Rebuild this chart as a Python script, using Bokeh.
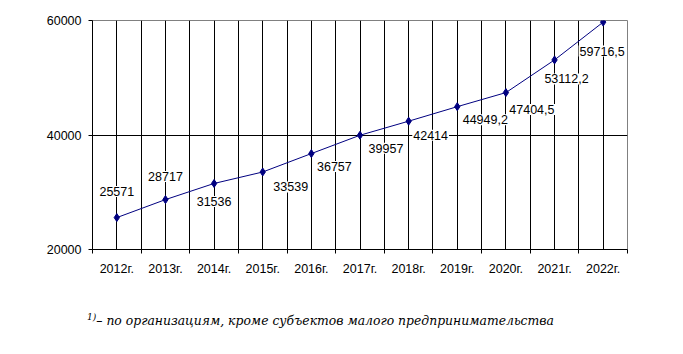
from bokeh.plotting import figure
from bokeh.models import FixedTicker, Div, ColumnDataSource, Range1d
from bokeh.layouts import column
from bokeh.core.properties import value
from bokeh.embed import file_html
from bokeh.resources import INLINE

# ---- data ----
years = ["2012г.", "2013г.", "2014г.", "2015г.", "2016г.", "2017г.",
         "2018г.", "2019г.", "2020г.", "2021г.", "2022г."]
values = [25571, 28717, 31536, 33539, 36757, 39957, 42414,
          44949.2, 47404.5, 53112.2, 59716.5]
value_labels = ["25571", "28717", "31536", "33539", "36757", "39957", "42414",
                "44949,2", "47404,5", "53112,2", "59716,5"]
y_ticks = [20000, 40000, 60000]
footnote = "– по организациям, кроме субъектов малого предпринимательства"

# ---- label placement (screen px) ----
label_dx = [0, 0, 0, 28, 23, 26, 22, 28, 26, 12, -1]
label_dy = [-26, -23, 18, 15, 13, 13, 14, 13, 17, 19, 29]

n = len(years)
xs = [i + 0.5 for i in range(n)]
bounds = list(range(n + 1))

src = ColumnDataSource(dict(x=xs, y=values, label=value_labels, dx=label_dx, dy=label_dy))

p = figure(width=683, height=300, x_range=Range1d(0, n), y_range=Range1d(20000, 60000),
           output_backend="svg", toolbar_location=None,
           min_border_left=92, min_border_right=56, min_border_top=20, min_border_bottom=51)
p.background_fill_color = "white"
p.border_fill_color = "white"
p.outline_line_color = "#808080"

# x axis
p.xaxis.ticker = FixedTicker(ticks=xs, minor_ticks=bounds)
p.xaxis.major_label_overrides = {x: y for x, y in zip(xs, years)}
p.xaxis.major_tick_out = 0
p.xaxis.major_tick_in = 0
p.xaxis.minor_tick_out = 4
p.xaxis.minor_tick_in = 0
p.xaxis.minor_tick_line_color = "black"
p.xaxis.major_label_standoff = 8
# y axis
p.yaxis.ticker = FixedTicker(ticks=y_ticks, minor_ticks=[])
p.yaxis.major_tick_out = 4
p.yaxis.major_tick_in = 0
p.yaxis.major_label_standoff = 7
for ax in (p.xaxis, p.yaxis):
    ax.axis_line_color = "black"
    ax.major_tick_line_color = "black"
    ax.major_label_text_font = "Liberation Sans"
    ax.major_label_text_font_size = "12.5px"
    ax.major_label_text_color = "black"

# grids
p.xgrid.ticker = FixedTicker(ticks=xs, minor_ticks=bounds[1:-1])
p.xgrid.grid_line_color = "black"
p.xgrid.minor_grid_line_color = "black"
p.ygrid.ticker = FixedTicker(ticks=[40000], minor_ticks=[])
p.ygrid.grid_line_color = "black"

p.line(x="x", y="y", source=src, line_color="#000080", line_width=1)
p.scatter(x="x", y="y", source=src, marker="diamond", size=8,
          fill_color="#000080", line_color="#000080")
p.text(x="x", y="y", text="label", x_offset="dx", y_offset="dy", source=src,
       text_font=value("Liberation Sans"), text_font_size="12.5px", text_color="black",
       text_align="center", text_baseline="middle", background_fill_color="white",
       padding=1)

div = Div(text=('<div style="padding:11px 0 0 87px; font-family:\'DejaVu Serif\'; '
                'font-style:italic; font-size:12.4px; color:black; white-space:nowrap;">'
                '<sup style="font-size:9px">1)</sup>' + footnote + '</div>'),
          width=683, height=54, margin=0)

layout = column(p, div, spacing=0)
open("out.html", "w").write(file_html(layout, INLINE))
